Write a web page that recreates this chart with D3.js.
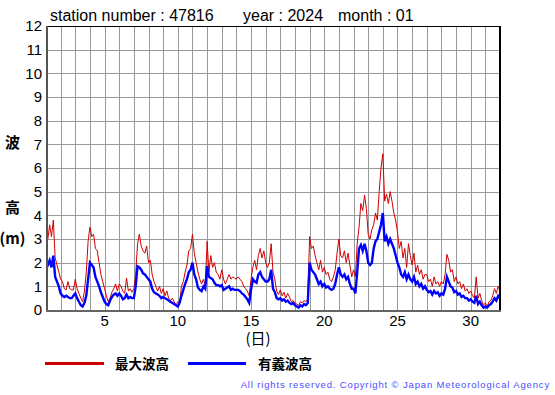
<!DOCTYPE html>
<html>
<head>
<meta charset="utf-8">
<script src="https://cdn.jsdelivr.net/npm/d3@7"></script>
<style>
body { margin: 0; background: #fff; }
svg text { font-family: "Liberation Sans", Arial, sans-serif; }
.jp { font-family: "Noto Sans CJK JP", sans-serif; font-weight: bold; }
</style>
</head>
<body>
<div id="chart"></div>
<script>
var svgWidth = 555;
var svgHeight = 395;

// 3-hourly values from Jan 1 00:00 to Feb 1 00:00
var stepDays = 1 / 8;

var maxWave = [
	2.8, 3.0, 3.6, 3.1, 3.8, 2.2, 1.9, 1.6,
	1.3, 1.2, 0.9, 0.85, 1.2, 0.9, 0.85, 0.85,
	1.3, 0.9, 0.7, 0.5, 0.35, 0.8, 1.6, 2.9,
	3.5, 3.1, 3.2, 2.6, 2.5, 2.0, 1.5, 1.2,
	0.9, 0.6, 0.35, 0.5, 0.75, 0.9, 1.1, 0.8,
	1.1, 1.0, 0.8, 0.7, 1.35, 0.8, 0.9, 0.75,
	0.9, 1.5, 2.8, 3.2, 2.7, 2.5, 2.4, 2.7,
	2.0, 2.1, 1.5, 1.2, 1.0, 0.8, 1.0, 0.7,
	0.9, 0.6, 0.8, 0.5, 0.4, 0.5, 0.35, 0.2,
	0.35, 0.3, 1.0, 1.2, 1.6, 1.9, 2.5, 2.6,
	3.2, 2.4, 2.0, 1.6, 1.3, 1.1, 1.3, 1.0,
	2.9, 1.6, 2.3, 1.8, 2.0, 1.6, 1.5, 1.3,
	1.7, 1.3, 1.1, 1.3, 1.5, 1.3, 1.4, 1.35,
	1.3, 1.4, 1.3, 1.2, 1.0, 0.9, 0.8, 0.6,
	1.3, 1.8, 2.1, 1.7, 2.3, 2.6, 2.2, 2.5,
	2.0, 1.8, 2.0, 2.8, 1.6, 1.3, 0.8, 0.65,
	0.85, 0.6, 0.75, 0.5, 0.7, 0.55, 0.35, 0.4,
	0.3, 0.25, 0.2, 0.35, 0.3, 0.4, 0.35, 0.45,
	3.1, 2.6, 2.7, 2.3, 2.0, 1.7, 2.1, 1.6,
	1.8, 1.5, 1.6, 1.3, 1.2, 1.4, 1.7, 2.4,
	3.0, 2.3, 2.2, 2.5, 2.0, 2.4, 1.9, 1.4,
	1.7, 1.4, 2.8, 3.5, 4.5, 4.2, 4.85, 4.3,
	3.2, 3.0, 3.4, 3.6, 4.1, 3.8, 5.0, 6.0,
	6.6, 4.6, 4.9, 4.5, 5.0, 4.6, 4.1, 3.8,
	3.3, 2.6, 2.9, 2.2, 2.6, 1.8, 2.8, 2.3,
	1.9, 2.4, 1.6, 1.9, 1.5, 1.7, 1.3, 1.5,
	1.5, 1.2, 1.3, 1.0, 1.4, 1.1, 1.2, 1.0,
	1.2, 1.1, 1.5, 2.35, 2.1, 1.6, 1.7, 1.2,
	1.4, 1.1, 1.2, 0.9, 1.1, 0.8, 0.9, 0.7,
	0.8, 0.6, 0.5, 1.4, 0.5, 0.7, 0.4, 0.2,
	0.3, 0.15, 0.35, 0.4, 0.6, 0.9, 0.7, 1.0,
	0.8
];

var sigWave = [
	1.7, 1.9, 2.1, 1.8, 2.3, 1.4, 1.2, 1.0,
	0.7, 0.6, 0.55, 0.6, 0.55, 0.5, 0.5, 0.6,
	0.7, 0.5, 0.35, 0.2, 0.15, 0.3, 0.6, 1.3,
	2.0, 1.9, 1.8, 1.4, 1.2, 1.0, 0.75, 0.55,
	0.35, 0.25, 0.2, 0.4, 0.55, 0.65, 0.7, 0.6,
	0.7, 0.6, 0.45, 0.5, 0.65, 0.5, 0.55, 0.5,
	0.5, 1.0, 1.85, 1.8, 1.7, 1.55, 1.5, 1.4,
	1.3, 1.2, 0.9, 0.75, 0.7, 0.65, 0.6, 0.5,
	0.55, 0.5, 0.45, 0.4, 0.35, 0.3, 0.25, 0.2,
	0.15, 0.3, 0.6, 0.85, 1.1, 1.3, 1.6, 1.7,
	2.0, 1.5, 1.3, 0.95, 0.85, 0.8, 1.0, 0.9,
	1.85, 1.4, 1.35, 1.3, 1.15, 1.05, 1.05, 1.0,
	1.05, 0.85, 0.9, 0.95, 1.0, 0.85, 0.9, 0.85,
	0.85, 0.85, 0.8, 0.7, 0.65, 0.55, 0.45, 0.3,
	0.85, 1.3, 1.2, 1.15, 1.5, 1.6, 1.4, 1.3,
	1.2, 1.2, 1.3, 1.7, 0.9, 0.75, 0.5, 0.45,
	0.5, 0.4, 0.45, 0.35, 0.4, 0.3, 0.25, 0.3,
	0.2, 0.15, 0.1, 0.2, 0.15, 0.25, 0.2, 0.3,
	2.0, 1.7, 1.6, 1.5, 1.3, 1.1, 1.2, 1.0,
	1.1, 0.95, 1.0, 0.9, 0.85, 0.9, 1.1, 1.5,
	1.8, 1.5, 1.4, 1.5, 1.3, 1.4, 1.1, 0.9,
	0.9, 0.7, 1.6, 2.6, 2.75, 2.5, 2.8, 2.5,
	2.0, 1.9, 2.0, 2.6, 2.9, 3.0, 3.3, 3.6,
	4.1, 2.9, 3.1, 2.8, 3.0, 2.8, 2.6, 2.3,
	2.0, 1.8, 1.5, 1.4, 1.6, 1.3, 1.5, 1.3,
	1.2, 1.4, 1.1, 1.2, 1.0, 1.1, 0.9, 1.0,
	0.85, 0.75, 0.8, 0.65, 0.8, 0.7, 0.75, 0.6,
	0.7, 0.65, 0.9, 1.4, 1.2, 1.0, 0.95, 0.75,
	0.8, 0.65, 0.7, 0.55, 0.6, 0.5, 0.5, 0.4,
	0.45, 0.35, 0.3, 0.6, 0.25, 0.35, 0.2, 0.1,
	0.15, 0.1, 0.2, 0.25, 0.35, 0.5, 0.4, 0.6,
	0.5
];

var xTicks = [5, 10, 15, 20, 25, 30];
var yTicks = [0, 1, 2, 3, 4, 5, 6, 7, 8, 9, 10, 11, 12];

var svg = d3.select("#chart")
	.append("svg")
	.attr("width", svgWidth)
	.attr("height", svgHeight);

var x = d3.scaleLinear().domain([1, 32]).range([46, 500]);
var y = d3.scaleLinear().domain([0, 12]).range([310, 26]);

// grid
var grid = svg.append("g").attr("shape-rendering", "crispEdges");
grid.selectAll(".vg")
	.data(d3.range(2, 32))
	.enter().append("line")
	.attr("x1", d => Math.round(x(d)) + 0.5).attr("x2", d => Math.round(x(d)) + 0.5)
	.attr("y1", y(12)).attr("y2", y(0))
	.attr("stroke", "#999").attr("stroke-width", 1);
grid.selectAll(".hg")
	.data(d3.range(1, 12))
	.enter().append("line")
	.attr("y1", d => Math.round(y(d)) + 0.5).attr("y2", d => Math.round(y(d)) + 0.5)
	.attr("x1", x(1)).attr("x2", x(32))
	.attr("stroke", "#999").attr("stroke-width", 1);

// series
svg.append("clipPath").attr("id", "clip")
	.append("rect").attr("x", x(1)).attr("y", y(12)).attr("width", x(32) - x(1)).attr("height", y(0) - y(12));

function toPoints(arr) {
	return arr.map((v, i) => [1 + i * stepDays, v]);
}
var line = d3.line().x(d => x(d[0])).y(d => y(d[1]));

svg.append("path")
	.datum(toPoints(maxWave))
	.attr("clip-path", "url(#clip)")
	.attr("fill", "none")
	.attr("stroke", "#d00000")
	.attr("stroke-width", 1)
	.attr("d", line);

svg.append("path")
	.datum(toPoints(sigWave))
	.attr("clip-path", "url(#clip)")
	.attr("fill", "none")
	.attr("stroke", "#0000ff")
	.attr("stroke-width", 2.4)
	.attr("d", line);

// frame
var frame = svg.append("g").attr("shape-rendering", "crispEdges");
frame.append("line").attr("x1", x(1)).attr("x2", x(32)).attr("y1", 26.5).attr("y2", 26.5).attr("stroke", "#000");
frame.append("line").attr("x1", 500).attr("x2", 500).attr("y1", 26).attr("y2", 311).attr("stroke", "#000").attr("stroke-width", 2);
frame.append("line").attr("x1", 47).attr("x2", 47).attr("y1", 26).attr("y2", 312).attr("stroke", "#555").attr("stroke-width", 2);
frame.append("line").attr("x1", 46).attr("x2", 501).attr("y1", 311).attr("y2", 311).attr("stroke", "#666").attr("stroke-width", 2);

// tick labels
svg.append("g").selectAll("text")
	.data(yTicks)
	.enter().append("text")
	.attr("x", 42)
	.attr("y", d => y(d))
	.attr("dy", "0.36em")
	.attr("text-anchor", "end")
	.attr("font-size", 15)
	.text(d => d);

svg.append("g").selectAll("text")
	.data(xTicks)
	.enter().append("text")
	.attr("x", d => x(d))
	.attr("y", 326)
	.attr("text-anchor", "middle")
	.attr("font-size", 15)
	.text(d => d);

// title
svg.append("text").attr("x", 50).attr("y", 21).attr("font-size", 16).text("station number : 47816");
svg.append("text").attr("x", 243).attr("y", 21).attr("font-size", 16).text("year : 2024");
svg.append("text").attr("x", 338).attr("y", 21).attr("font-size", 16).text("month : 01");

// axis titles
svg.append("text").attr("class", "jp").attr("x", 12.5).attr("y", 148).attr("text-anchor", "middle").attr("font-size", 15).text("波");
svg.append("text").attr("class", "jp").attr("x", 12.5).attr("y", 213).attr("text-anchor", "middle").attr("font-size", 15).text("高");
svg.append("text").attr("class", "jp").attr("x", 12.5).attr("y", 244).attr("text-anchor", "middle").attr("font-size", 15).text("(m)");
svg.append("text").attr("x", 258).attr("y", 344)
	.attr("text-anchor", "middle")
	.attr("font-size", 15)
	.style("font-family", "'Noto Sans CJK JP', sans-serif")
	.text("(日)");

// legend
var legend = svg.append("g");
legend.append("line").attr("x1", 45).attr("x2", 104).attr("y1", 363.5).attr("y2", 363.5).attr("stroke", "#cc0000").attr("stroke-width", 3);
legend.append("text").attr("class", "jp").attr("x", 115).attr("y", 369).attr("font-size", 13.5).text("最大波高");
legend.append("line").attr("x1", 188).attr("x2", 246).attr("y1", 363.5).attr("y2", 363.5).attr("stroke", "#0000ff").attr("stroke-width", 3);
legend.append("text").attr("class", "jp").attr("x", 258).attr("y", 369).attr("font-size", 13.5).text("有義波高");

svg.append("text")
	.attr("x", 550).attr("y", 388)
	.attr("text-anchor", "end")
	.attr("font-size", 9.5)
	.attr("letter-spacing", 0.85)
	.attr("fill", "#4d4dff")
	.text("All rights reserved. Copyright © Japan Meteorological Agency");
</script>
</body>
</html>
